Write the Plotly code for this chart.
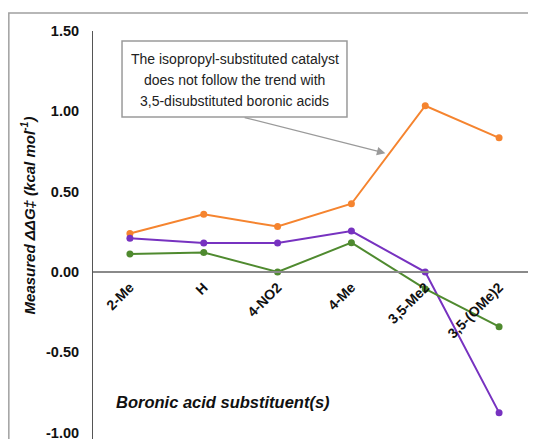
import plotly.graph_objects as go

categories = ["2-Me", "H", "4-NO2", "4-Me", "3,5-Me2", "3,5-(OMe)2"]
orange_vals = [0.24, 0.359, 0.283, 0.425, 1.035, 0.835]
purple_vals = [0.21, 0.181, 0.181, 0.255, 0.0, -0.875]
green_vals = [0.113, 0.122, 0.0, 0.183, -0.105, -0.34]
y_ticks = [1.5, 1.0, 0.5, 0.0, -0.5, -1.0]
y_tick_labels = ["1.50", "1.00", "0.50", "0.00", "-0.50", "-1.00"]

series = [
    (orange_vals, "#F5842F"),
    (purple_vals, "#7732C0"),
    (green_vals, "#4F8A2F"),
]

fig = go.Figure()
for vals, col in series:
    fig.add_trace(go.Scatter(
        x=list(range(len(categories))), y=vals, mode="lines+markers",
        line=dict(color=col, width=2), marker=dict(color=col, size=7),
        showlegend=False, cliponaxis=False))

YMIN, YMAX = -1.039, 1.5
zero_pos = (0 - YMIN) / (YMAX - YMIN)

font_family = "Liberation Sans, Arial, Helvetica, sans-serif"

fig.update_layout(
    width=528, height=431,
    margin=dict(l=85, r=0, t=23, b=0, autoexpand=False),
    paper_bgcolor="white", plot_bgcolor="white",
    font=dict(family=font_family, color="#111"),
    xaxis=dict(
        range=[-0.5, 5.5], tickmode="array",
        tickvals=list(range(len(categories))), ticktext=categories,
        tickangle=-45, anchor="free", position=zero_pos, automargin=False,
        showline=True, linecolor="#8a8a8a", linewidth=1.5,
        showgrid=False, zeroline=False, ticks="",
        tickfont=dict(size=14, family=font_family, weight="bold", color="#111"),
        ticklabelstandoff=1, ticklabeloverflow="allow",
    ),
    yaxis=dict(
        range=[YMIN, YMAX], tickmode="array", tickvals=y_ticks, ticktext=y_tick_labels,
        automargin=False,
        showline=True, linecolor="#555", linewidth=1,
        showgrid=False, zeroline=False, ticks="",
        tickfont=dict(size=14.5, family=font_family, weight="bold", color="#111"),
        ticklabelstandoff=10, ticklabeloverflow="allow",
    ),
)

# outer frame
fig.add_shape(type="rect", xref="paper", yref="paper",
              x0=-0.19, x1=1.1, y0=-0.2, y1=1.0441,
              line=dict(color="#a0a0a0", width=1.5), layer="below")

# callout box
fig.add_shape(type="rect", xref="x", yref="y",
              x0=-0.107, x1=2.94, y0=0.965, y1=1.438,
              line=dict(color="#9a9a9a", width=1.5), fillcolor="white")
box_lines = ["The isopropyl-substituted catalyst",
             "does not follow the trend with",
             "3,5-disubstituted boronic acids"]
for txt, yy in zip(box_lines, [1.328, 1.196, 1.064]):
    fig.add_annotation(x=1.418, y=yy, xref="x", yref="y", text=txt,
                       xanchor="center", yanchor="middle",
                       showarrow=False, font=dict(size=14, color="#222", family=font_family))

# arrow
fig.add_annotation(x=3.46, y=0.74, xref="x", yref="y", ax=1.534, ay=0.964,
                   axref="x", ayref="y", text="", showarrow=True,
                   arrowhead=2, arrowsize=1.3, arrowwidth=1.3, arrowcolor="#9a9a9a")

# x-axis title (inside plot)
fig.add_annotation(x=1.254, y=-0.809, xref="x", yref="y",
                   xanchor="center", yanchor="middle",
                   text="<b><i>Boronic acid substituent(s)</i></b>",
                   showarrow=False, font=dict(size=16.5, color="#111", family=font_family))

# y-axis title
fig.add_annotation(x=-0.148, y=0.549, xref="paper", yref="paper",
                   xanchor="center", yanchor="middle",
                   text="<b><i>Measured ΔΔG‡ (kcal mol<sup>-1</sup>)</i></b>",
                   textangle=-90, showarrow=False,
                   font=dict(size=15, color="#111", family=font_family))

fig.write_html("out.html")
